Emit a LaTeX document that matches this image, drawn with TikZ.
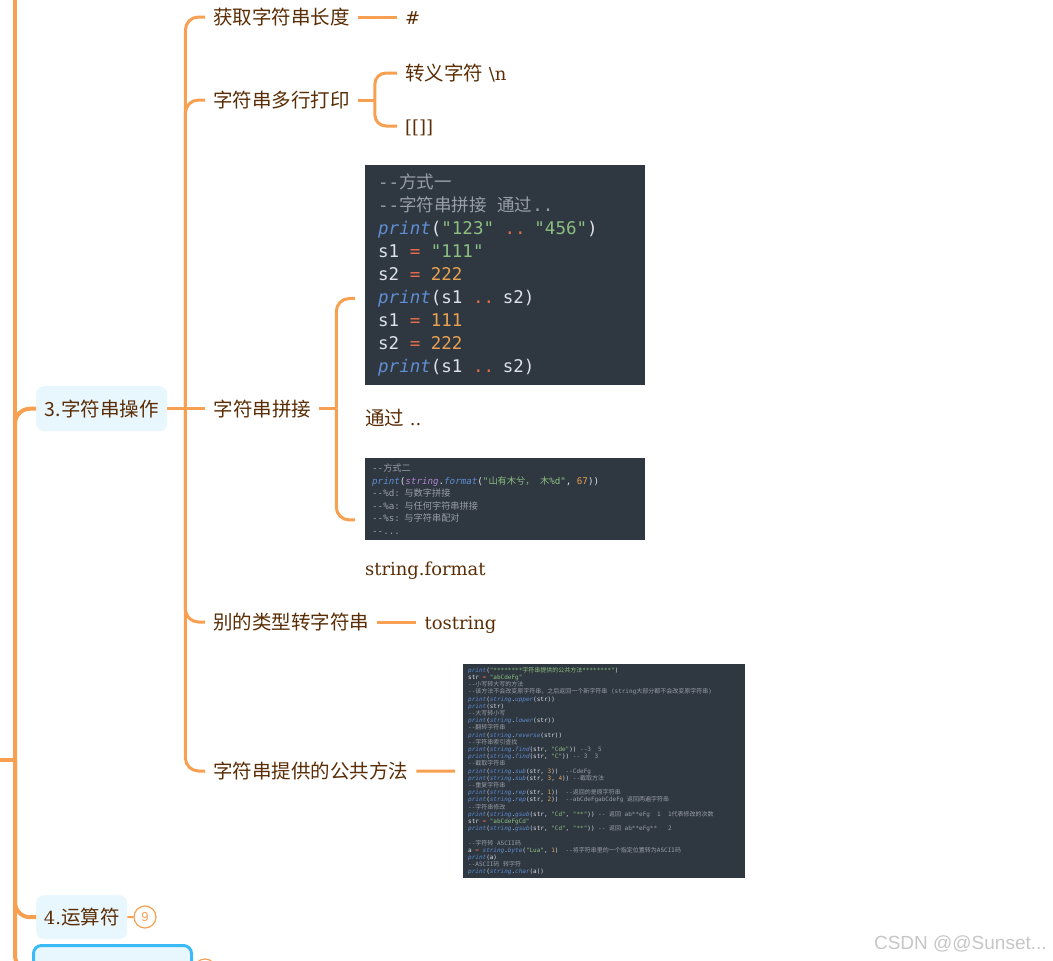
\documentclass[tikz,border=0pt]{standalone}
\usepackage{fontspec}
\setmainfont{DejaVu Serif}[Scale=0.92]
\setmonofont{DejaVu Sans Mono}
\newfontfamily\cjk{Noto Sans CJK SC}
\newfontfamily\uisans{Liberation Sans}
\usetikzlibrary{positioning,fit}

\definecolor{branch}{RGB}{247,160,82}
\definecolor{topicfg}{RGB}{90,45,5}
\definecolor{mainfill}{RGB}{232,246,254}
\definecolor{selborder}{RGB}{58,186,246}
\definecolor{codebg}{RGB}{47,55,65}
\definecolor{codetxt}{RGB}{222,226,232}
\definecolor{codecmt}{RGB}{152,158,165}
\definecolor{codekw}{RGB}{95,142,210}
\definecolor{codelib}{RGB}{178,130,205}
\definecolor{codestr}{RGB}{140,192,128}
\definecolor{codeop}{RGB}{228,110,72}
\definecolor{codenum}{RGB}{232,162,82}
\definecolor{wmgray}{RGB}{198,198,198}

\newcommand\zh[1]{{\cjk #1}}
\newcommand\ckw[1]{\textcolor{codekw}{\itshape #1}}
\newcommand\clib[1]{\textcolor{codelib}{\itshape #1}}
\newcommand\cstr[1]{\textcolor{codestr}{#1}}
\newcommand\cop[1]{\textcolor{codeop}{#1}}
\newcommand\cnum[1]{\textcolor{codenum}{#1}}
\newcommand\ccmt[1]{\textcolor{codecmt}{#1}}

\begin{document}
\begin{tikzpicture}[x=1pt, y=-1pt,
    link/.style={draw=branch, line width=3pt, rounded corners=13pt},
    trunk/.style={link, line width=4pt, rounded corners=15pt},
    topic/.style={text=topicfg, font=\cjk\fontsize{19.5}{23}\selectfont, inner xsep=8pt, inner ysep=4pt, anchor=west},
    leaf/.style={topic, font=\fontsize{19.5}{23}\selectfont, text height=17pt, text depth=2.5pt},
    mainbox/.style={topic, fill=mainfill, rounded corners=8pt, inner xsep=0pt, anchor=north west},
    codebox/.style={fill=codebg, text=codetxt, align=left, anchor=north west, inner ysep=0pt},
    badge/.style={circle, draw=branch, line width=1.2pt, fill=white, text=branch, minimum size=22pt, inner sep=0pt, font=\uisans\fontsize{13}{13}\selectfont}]
    \path[use as bounding box, fill=white] (0,0) rectangle (1053,961);

    % main topics
    \node[mainbox, minimum width=131pt, minimum height=45pt] (op3) at (36,386) {3.字符串操作};
    \node[mainbox, minimum width=91pt, minimum height=44pt] (op4) at (36,895) {{\rmfamily 4.}运算符};
    \node[mainbox, draw=selborder, line width=3pt, minimum width=158pt, minimum height=50pt] (op5) at (32,944) {};
    \node[badge] (cnt4) at (145,917) {9};
    \node[badge] (cnt5) at (205,970) {};

    % subtopics of 3
    \node[topic] (len) at (205,17) {获取字符串长度};
    \node[topic] (multi) at (205,100) {字符串多行打印};
    \coordinate (fork3) at ([xshift=18pt]op3.east);
    \node[topic, xshift=20pt] (concat) at (fork3) {字符串拼接};
    \node[topic] (conv) at (205,622) {别的类型转字符串};
    \node[topic] (pub) at (205,771) {字符串提供的公共方法};

    \node[leaf, xshift=39pt] (hash) at (len.east) {\#};
    \node[leaf] (esc) at (397,73) {\zh{转义字符} \textbackslash n};
    \node[leaf] (brk) at (397,126) {[[]]};
    \node[leaf, xshift=39pt] (tostr) at (conv.east) {tostring};

    % code pictures
    \node[codebox, text width=254pt, inner xsep=13pt, minimum height=220pt,
          font=\ttfamily\fontsize{17.5}{23}\selectfont] (img1) at (365,165) {\spaceskip=0pt\relax
        \ccmt{--\zh{方式一}}\\
        \ccmt{--\zh{字符串拼接} \zh{通过}..}\\
        \ckw{print}(\cstr{"123"} \cop{..} \cstr{"456"})\\
        s1 \cop{=} \cstr{"111"}\\
        s2 \cop{=} \cnum{222}\\
        \ckw{print}(s1 \cop{..} s2)\\
        s1 \cop{=} \cnum{111}\\
        s2 \cop{=} \cnum{222}\\
        \ckw{print}(s1 \cop{..} s2)};
    \node[leaf, inner xsep=0pt] (txtA) at (365,418) {\zh{通过} ..};
    \node[fit=(img1)(txtA), inner sep=0pt] (grpA) {};

    \node[codebox, text width=266pt, inner xsep=7pt, minimum height=82pt,
          font=\ttfamily\fontsize{9.2}{12.6}\selectfont] (img2) at (365,458) {\spaceskip=0pt\relax
        \ccmt{--\zh{方式二}}\\
        \ckw{print}(\clib{string}.\ckw{format}(\cstr{"\zh{山有木兮，} \zh{木}\%d"}, \cnum{67}))\\
        \ccmt{--\%d: \zh{与数字拼接}}\\
        \ccmt{--\%a: \zh{与任何字符串拼接}}\\
        \ccmt{--\%s: \zh{与字符串配对}}\\
        \ccmt{--...}};
    \node[leaf, inner xsep=0pt] (txtB) at (365,568) {string.format};
    \node[fit=(img2)(txtB), inner sep=0pt] (grpB) {};

    \node[codebox, text width=272pt, inner xsep=5pt, minimum height=214pt,
          font=\ttfamily\fontsize{6}{7.2}\selectfont] (img3) at (463,664) {\spaceskip=0pt\relax
        \ckw{print}(\cstr{"********\zh{字符串提供的公共方法}********"})\\
        str \cop{=} \cstr{"abCdeFg"}\\
        \ccmt{--\zh{小写转大写的方法}}\\
        \ccmt{--\zh{该方法不会改变原字符串，之后返回一个新字符串} (string\zh{大部分都不会改变原字符串})}\\
        \ckw{print}(\ckw{string}.\ckw{upper}(str))\\
        \ckw{print}(str)\\
        \ccmt{--\zh{大写转小写}}\\
        \ckw{print}(\ckw{string}.\ckw{lower}(str))\\
        \ccmt{--\zh{翻转字符串}}\\
        \ckw{print}(\ckw{string}.\ckw{reverse}(str))\\
        \ccmt{--\zh{字符串索引查找}}\\
        \ckw{print}(\ckw{string}.\ckw{find}(str, \cstr{"Cde"})) \ccmt{--3\ \ 5}\\
        \ckw{print}(\ckw{string}.\ckw{find}(str, \cstr{"C"})) \ccmt{-- 3\ \ 3}\\
        \ccmt{--\zh{截取字符串}}\\
        \ckw{print}(\ckw{string}.\ckw{sub}(str, \cnum{3}))\ \ \ccmt{--CdeFg}\\
        \ckw{print}(\ckw{string}.\ckw{sub}(str, \cnum{3}, \cnum{4})) \ccmt{--\zh{截取方法}}\\
        \ccmt{--\zh{重复字符串}}\\
        \ckw{print}(\ckw{string}.\ckw{rep}(str, \cnum{1}))\ \ \ccmt{--\zh{返回的是原字符串}}\\
        \ckw{print}(\ckw{string}.\ckw{rep}(str, \cnum{2}))\ \ \ccmt{--abCdeFgabCdeFg \zh{返回两遍字符串}}\\
        \ccmt{--\zh{字符串修改}}\\
        \ckw{print}(\ckw{string}.\ckw{gsub}(str, \cstr{"Cd"}, \cstr{"**"})) \ccmt{-- \zh{返回} ab**eFg\ \ 1\ \ 1\zh{代表修改的次数}}\\
        str \cop{=} \cstr{"abCdeFgCd"}\\
        \ckw{print}(\ckw{string}.\ckw{gsub}(str, \cstr{"Cd"}, \cstr{"**"})) \ccmt{-- \zh{返回} ab**eFg**\ \ \ 2}\\[7.2pt]
        \ccmt{--\zh{字符转} ASCII\zh{码}}\\
        a \cop{=} \ckw{string}.\ckw{byte}(\cstr{"Lua"}, \cnum{1})\ \ \ccmt{--\zh{将字符串里的一个指定位置转为}ASCII\zh{码}}\\
        \ckw{print}(a)\\
        \ccmt{--ASCII\zh{码} \zh{转字符}}\\
        \ckw{print}(\ckw{string}.\ckw{char}(a))};

    \node[text=wmgray, font=\uisans\fontsize{19}{19}\selectfont, anchor=east] (wm) at (1050,944) {CSDN @@Sunset...};

    % connectors
    \coordinate (parent) at (0,760);
    \coordinate (hub) at (15,760);
    \coordinate (ttop) at (15,-10);
    \draw[trunk] (parent) -- (hub);
    \draw[trunk] (hub) -- (ttop);
    \draw[trunk] (hub) |- (op3.west);
    \draw[trunk] (hub) |- (op4.west);
    \draw[trunk] (hub) |- (op5.west);
    \draw[link, line width=2pt] (op4.east) -- (cnt4.west);
    \draw[link, line width=2pt] (op5.east) -- (cnt5.west);

    \draw[link] (op3.east) -- (concat.west);
    \foreach \k in {len,multi,conv,pub}
        \draw[link] (fork3) |- (\k.west);

    \draw[link] (len.east) -- (hash.west);
    \coordinate (fork2) at ([xshift=17pt]multi.east);
    \draw[link] (multi.east) -- (fork2);
    \draw[link, rounded corners=11pt] (fork2) |- (esc.west);
    \draw[link, rounded corners=11pt] (fork2) |- (brk.west);

    \coordinate (fork4) at ([xshift=17pt]concat.east);
    \draw[link] (concat.east) -- (fork4);
    \draw[link] (fork4) |- ([xshift=-10pt]grpA.west);
    \draw[link] (fork4) |- ([xshift=-10pt]grpB.west);

    \draw[link] (conv.east) -- (tostr.west);
    \draw[link] (pub.east) -- ([xshift=-8pt]img3.west);
\end{tikzpicture}
\end{document}
